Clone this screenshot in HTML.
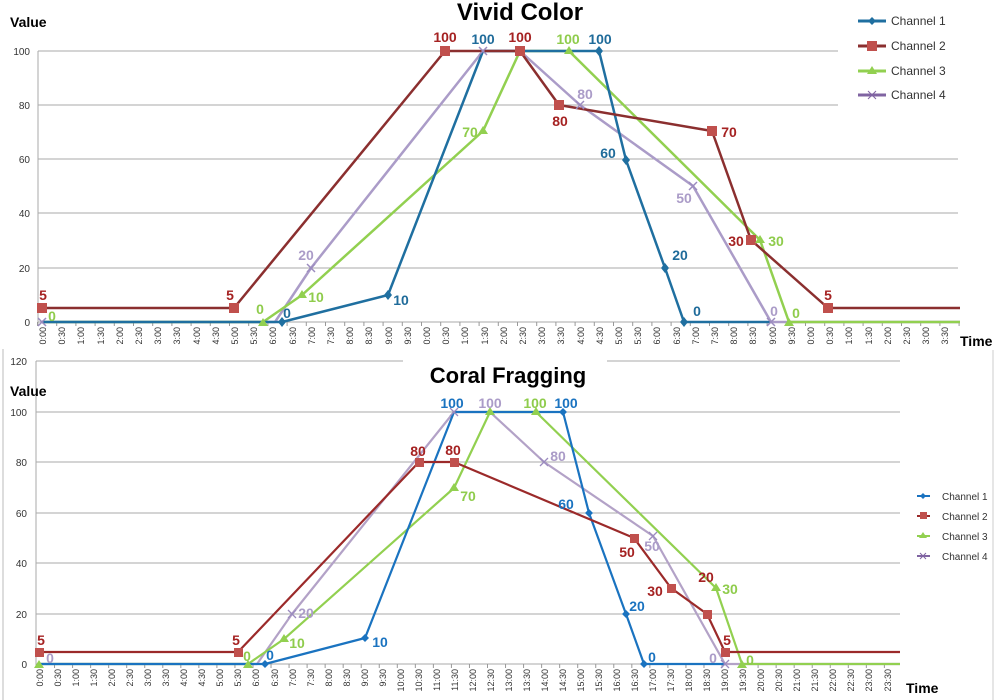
<!DOCTYPE html>
<html><head><meta charset="utf-8"><style>
html,body{margin:0;padding:0;background:#fff;}
svg{display:block;font-family:"Liberation Sans",sans-serif;}
.tk{font-size:9px;fill:#333;}
.yl{font-size:10px;fill:#333;}
.dl{font-size:14px;font-weight:bold;text-anchor:middle;}
.r{fill:#a52222}.b{fill:#1f6b9a}.g{fill:#8fcc4c}.p{fill:#ab9cc8}
.b2{fill:#1a73c0}
</style></head><body>
<svg width="1000" height="700" viewBox="0 0 1000 700">
<!-- ===== TOP CHART ===== -->
<g stroke="#aaa" stroke-width="1">
<line x1="38" y1="51" x2="838" y2="51"/><line x1="38" y1="105" x2="838" y2="105"/>
<line x1="38" y1="159" x2="958" y2="159"/><line x1="38" y1="213" x2="958" y2="213"/>
<line x1="38" y1="268" x2="958" y2="268"/>
<line x1="38" y1="322" x2="960" y2="322"/>
<line x1="38" y1="51" x2="38" y2="326"/>
</g>
<line x1="33" y1="324" x2="960" y2="324" stroke="#999" stroke-width="4" stroke-dasharray="1 18.2" stroke-dashoffset="-4"/>
<g class="yl" text-anchor="end">
<text x="30" y="55">100</text><text x="30" y="109">80</text><text x="30" y="163">60</text><text x="30" y="217">40</text><text x="30" y="272">20</text><text x="30" y="326">0</text>
</g>
<text x="10" y="27" font-size="14" font-weight="bold">Value</text>
<text x="520" y="20" font-size="24" font-weight="bold" text-anchor="middle">Vivid Color</text>
<text x="960" y="346" font-size="14" font-weight="bold">Time</text>
<g class="tk" text-anchor="end">
<text transform="translate(46,327) rotate(-90)">0:00</text>
<text transform="translate(65,327) rotate(-90)">0:30</text>
<text transform="translate(84,327) rotate(-90)">1:00</text>
<text transform="translate(104,327) rotate(-90)">1:30</text>
<text transform="translate(123,327) rotate(-90)">2:00</text>
<text transform="translate(142,327) rotate(-90)">2:30</text>
<text transform="translate(161,327) rotate(-90)">3:00</text>
<text transform="translate(180,327) rotate(-90)">3:30</text>
<text transform="translate(200,327) rotate(-90)">4:00</text>
<text transform="translate(219,327) rotate(-90)">4:30</text>
<text transform="translate(238,327) rotate(-90)">5:00</text>
<text transform="translate(257,327) rotate(-90)">5:30</text>
<text transform="translate(276,327) rotate(-90)">6:00</text>
<text transform="translate(296,327) rotate(-90)">6:30</text>
<text transform="translate(315,327) rotate(-90)">7:00</text>
<text transform="translate(334,327) rotate(-90)">7:30</text>
<text transform="translate(353,327) rotate(-90)">8:00</text>
<text transform="translate(372,327) rotate(-90)">8:30</text>
<text transform="translate(392,327) rotate(-90)">9:00</text>
<text transform="translate(411,327) rotate(-90)">9:30</text>
<text transform="translate(430,327) rotate(-90)">0:00</text>
<text transform="translate(449,327) rotate(-90)">0:30</text>
<text transform="translate(468,327) rotate(-90)">1:00</text>
<text transform="translate(488,327) rotate(-90)">1:30</text>
<text transform="translate(507,327) rotate(-90)">2:00</text>
<text transform="translate(526,327) rotate(-90)">2:30</text>
<text transform="translate(545,327) rotate(-90)">3:00</text>
<text transform="translate(564,327) rotate(-90)">3:30</text>
<text transform="translate(584,327) rotate(-90)">4:00</text>
<text transform="translate(603,327) rotate(-90)">4:30</text>
<text transform="translate(622,327) rotate(-90)">5:00</text>
<text transform="translate(641,327) rotate(-90)">5:30</text>
<text transform="translate(660,327) rotate(-90)">6:00</text>
<text transform="translate(680,327) rotate(-90)">6:30</text>
<text transform="translate(699,327) rotate(-90)">7:00</text>
<text transform="translate(718,327) rotate(-90)">7:30</text>
<text transform="translate(737,327) rotate(-90)">8:00</text>
<text transform="translate(756,327) rotate(-90)">8:30</text>
<text transform="translate(776,327) rotate(-90)">9:00</text>
<text transform="translate(795,327) rotate(-90)">9:30</text>
<text transform="translate(814,327) rotate(-90)">0:00</text>
<text transform="translate(833,327) rotate(-90)">0:30</text>
<text transform="translate(852,327) rotate(-90)">1:00</text>
<text transform="translate(872,327) rotate(-90)">1:30</text>
<text transform="translate(891,327) rotate(-90)">2:00</text>
<text transform="translate(910,327) rotate(-90)">2:30</text>
<text transform="translate(929,327) rotate(-90)">3:00</text>
<text transform="translate(948,327) rotate(-90)">3:30</text>
</g>
<g fill="none" stroke-width="2.5" stroke-linejoin="round">
<polyline stroke="#ab9cc8" points="42,322 275,322 311,268 483,51 520,51 580,105 693,186 771,322 960,322"/>
<polyline stroke="#92d050" points="42,322 263,322 302,295 483,131 520,51 569,51 760,240 789,322 960,322"/>
<polyline stroke="#1f6fa0" points="42,322 282,322 388,295 483,51 599,51 626,160 665,268 684,322 770,322"/>
<polyline stroke="#8b2f2f" points="42,308 234,308 445,51 520,51 559,105 712,131 751,240 828,308 960,308"/>
</g>
<g fill="#c0504d">
<rect x="37" y="303" width="10" height="10"/><rect x="229" y="303" width="10" height="10"/><rect x="440" y="46" width="10" height="10"/><rect x="515" y="46" width="10" height="10"/><rect x="554" y="100" width="10" height="10"/><rect x="707" y="126" width="10" height="10"/><rect x="746" y="235" width="10" height="10"/><rect x="823" y="303" width="10" height="10"/>
</g>
<g fill="#1f6fa0">
<path d="M282 317l4 5-4 5-4-5z"/><path d="M388 290l4 5-4 5-4-5z"/><path d="M599 46l4 5-4 5-4-5z"/><path d="M626 155l4 5-4 5-4-5z"/><path d="M665 263l4 5-4 5-4-5z"/><path d="M684 317l4 5-4 5-4-5z"/>
</g>
<g fill="#92d050">
<path d="M302 290l5 8h-10z"/><path d="M483 126l5 8h-10z"/><path d="M569 46l5 8h-10z"/><path d="M760 235l5 8h-10z"/><path d="M789 318l5 8h-10z"/><path d="M263 318l5 8h-10z"/>
</g>
<g stroke="#9b8bbf" stroke-width="1.5">
<path d="M307 264l8 8M315 264l-8 8"/><path d="M479 47l8 8M487 47l-8 8"/><path d="M576 101l8 8M584 101l-8 8"/><path d="M689 182l8 8M697 182l-8 8"/><path d="M767 318l8 8M775 318l-8 8"/><path d="M38 318l8 8M46 318l-8 8"/>
</g>
<g class="dl">
<text class="r" x="43" y="300">5</text><text class="r" x="230" y="300">5</text><text class="r" x="445" y="42">100</text><text class="r" x="520" y="42">100</text><text class="r" x="560" y="126">80</text><text class="r" x="729" y="137">70</text><text class="r" x="736" y="246">30</text><text class="r" x="828" y="300">5</text>
<text class="b" x="483" y="44">100</text><text class="b" x="401" y="305">10</text><text class="b" x="287" y="318">0</text><text class="b" x="600" y="44">100</text><text class="b" x="608" y="158">60</text><text class="b" x="680" y="260">20</text><text class="b" x="697" y="316">0</text>
<text class="g" x="52" y="321">0</text><text class="g" x="260" y="314">0</text><text class="g" x="316" y="302">10</text><text class="g" x="470" y="137">70</text><text class="g" x="568" y="44">100</text><text class="g" x="776" y="246">30</text><text class="g" x="796" y="318">0</text>
<text class="p" x="306" y="260">20</text><text class="p" x="585" y="99">80</text><text class="p" x="684" y="203">50</text><text class="p" x="774" y="316">0</text>
</g>
<g font-size="12" fill="#333">
<line x1="858" y1="21" x2="886" y2="21" stroke="#1f6fa0" stroke-width="3"/><path d="M872 17l4 4-4 4-4-4z" fill="#1f6fa0"/><text x="891" y="25">Channel 1</text>
<line x1="858" y1="46" x2="886" y2="46" stroke="#8b2f2f" stroke-width="3"/><rect x="867" y="41" width="10" height="10" fill="#c0504d"/><text x="891" y="50">Channel 2</text>
<line x1="858" y1="71" x2="886" y2="71" stroke="#92d050" stroke-width="3"/><path d="M872 66l5 8h-10z" fill="#92d050"/><text x="891" y="75">Channel 3</text>
<line x1="858" y1="95" x2="886" y2="95" stroke="#8064a2" stroke-width="3"/><path d="M868 91l8 8M876 91l-8 8" stroke="#8064a2"/><text x="891" y="99">Channel 4</text>
</g>
<line x1="3" y1="349" x2="3" y2="700" stroke="#bbb"/>

<!-- ===== BOTTOM CHART ===== -->
<g stroke="#aaa" stroke-width="1">
<line x1="36" y1="361" x2="403" y2="361"/><line x1="607" y1="361" x2="900" y2="361"/>
<line x1="36" y1="412" x2="900" y2="412"/><line x1="36" y1="462" x2="900" y2="462"/>
<line x1="36" y1="513" x2="900" y2="513"/><line x1="36" y1="563" x2="900" y2="563"/>
<line x1="36" y1="614" x2="900" y2="614"/><line x1="36" y1="664" x2="900" y2="664"/>
<line x1="36" y1="361" x2="36" y2="668"/>
</g>
<line x1="31" y1="666" x2="900" y2="666" stroke="#999" stroke-width="4" stroke-dasharray="1 17.04" stroke-dashoffset="-5"/>
<g class="yl" text-anchor="end">
<text x="27" y="365">120</text><text x="27" y="416">100</text><text x="27" y="466">80</text><text x="27" y="517">60</text><text x="27" y="567">40</text><text x="27" y="618">20</text><text x="27" y="668">0</text>
</g>
<text x="10" y="396" font-size="14" font-weight="bold">Value</text>
<text x="508" y="383" font-size="22" font-weight="bold" text-anchor="middle">Coral Fragging</text>
<text x="906" y="693" font-size="14" font-weight="bold">Time</text>
<g class="tk" text-anchor="end">
<text transform="translate(43,669) rotate(-90)">0:00</text>
<text transform="translate(61,669) rotate(-90)">0:30</text>
<text transform="translate(79,669) rotate(-90)">1:00</text>
<text transform="translate(97,669) rotate(-90)">1:30</text>
<text transform="translate(115,669) rotate(-90)">2:00</text>
<text transform="translate(133,669) rotate(-90)">2:30</text>
<text transform="translate(151,669) rotate(-90)">3:00</text>
<text transform="translate(169,669) rotate(-90)">3:30</text>
<text transform="translate(187,669) rotate(-90)">4:00</text>
<text transform="translate(205,669) rotate(-90)">4:30</text>
<text transform="translate(223,669) rotate(-90)">5:00</text>
<text transform="translate(241,669) rotate(-90)">5:30</text>
<text transform="translate(259,669) rotate(-90)">6:00</text>
<text transform="translate(278,669) rotate(-90)">6:30</text>
<text transform="translate(296,669) rotate(-90)">7:00</text>
<text transform="translate(314,669) rotate(-90)">7:30</text>
<text transform="translate(332,669) rotate(-90)">8:00</text>
<text transform="translate(350,669) rotate(-90)">8:30</text>
<text transform="translate(368,669) rotate(-90)">9:00</text>
<text transform="translate(386,669) rotate(-90)">9:30</text>
<text transform="translate(404,669) rotate(-90)">10:00</text>
<text transform="translate(422,669) rotate(-90)">10:30</text>
<text transform="translate(440,669) rotate(-90)">11:00</text>
<text transform="translate(458,669) rotate(-90)">11:30</text>
<text transform="translate(476,669) rotate(-90)">12:00</text>
<text transform="translate(494,669) rotate(-90)">12:30</text>
<text transform="translate(512,669) rotate(-90)">13:00</text>
<text transform="translate(530,669) rotate(-90)">13:30</text>
<text transform="translate(548,669) rotate(-90)">14:00</text>
<text transform="translate(566,669) rotate(-90)">14:30</text>
<text transform="translate(584,669) rotate(-90)">15:00</text>
<text transform="translate(602,669) rotate(-90)">15:30</text>
<text transform="translate(620,669) rotate(-90)">16:00</text>
<text transform="translate(638,669) rotate(-90)">16:30</text>
<text transform="translate(656,669) rotate(-90)">17:00</text>
<text transform="translate(674,669) rotate(-90)">17:30</text>
<text transform="translate(692,669) rotate(-90)">18:00</text>
<text transform="translate(710,669) rotate(-90)">18:30</text>
<text transform="translate(728,669) rotate(-90)">19:00</text>
<text transform="translate(746,669) rotate(-90)">19:30</text>
<text transform="translate(764,669) rotate(-90)">20:00</text>
<text transform="translate(782,669) rotate(-90)">20:30</text>
<text transform="translate(800,669) rotate(-90)">21:00</text>
<text transform="translate(818,669) rotate(-90)">21:30</text>
<text transform="translate(836,669) rotate(-90)">22:00</text>
<text transform="translate(854,669) rotate(-90)">22:30</text>
<text transform="translate(872,669) rotate(-90)">23:00</text>
<text transform="translate(891,669) rotate(-90)">23:30</text>
</g>
<g fill="none" stroke-width="2.2" stroke-linejoin="round">
<polyline stroke="#b3a2c7" points="39,664 257,664 292,614 454,412 490,412 544,462 653,536 725,664 900,664"/>
<polyline stroke="#92d050" points="39,664 248,664 284,639 454,488 490,412 536,412 716,588 742,664 900,664"/>
<polyline stroke="#1a73c0" points="39,664 265,664 365,638 454,412 563,412 589,513 626,614 644,664 725,664"/>
<polyline stroke="#9b2a2a" points="39,652 238,652 419,462 454,462 634,538 671,588 707,614 725,652 900,652"/>
</g>
<g fill="#c0504d">
<rect x="35" y="648" width="9" height="9"/><rect x="234" y="648" width="9" height="9"/><rect x="415" y="458" width="9" height="9"/><rect x="450" y="458" width="9" height="9"/><rect x="630" y="534" width="9" height="9"/><rect x="667" y="584" width="9" height="9"/><rect x="703" y="610" width="9" height="9"/><rect x="721" y="648" width="9" height="9"/>
</g>
<g fill="#1a73c0">
<path d="M265 660l4 4-4 4-4-4z"/><path d="M365 634l4 4-4 4-4-4z"/><path d="M563 408l4 4-4 4-4-4z"/><path d="M589 509l4 4-4 4-4-4z"/><path d="M626 610l4 4-4 4-4-4z"/><path d="M644 660l4 4-4 4-4-4z"/>
</g>
<g fill="#92d050">
<path d="M284 634l5 8h-10z"/><path d="M454 483l5 8h-10z"/><path d="M490 407l5 8h-10z"/><path d="M536 407l5 8h-10z"/><path d="M716 583l5 8h-10z"/><path d="M742 660l5 8h-10z"/><path d="M248 660l5 8h-10z"/><path d="M39 660l5 8h-10z"/>
</g>
<g stroke="#9b8bbf" stroke-width="1.3">
<path d="M288 610l8 8M296 610l-8 8"/><path d="M450 408l8 8M458 408l-8 8"/><path d="M540 458l8 8M548 458l-8 8"/><path d="M649 532l8 8M657 532l-8 8"/><path d="M721 660l8 8M729 660l-8 8"/>
</g>
<g class="dl">
<text class="r" x="41" y="645">5</text><text class="r" x="236" y="645">5</text><text class="r" x="418" y="456">80</text><text class="r" x="453" y="455">80</text><text class="r" x="627" y="557">50</text><text class="r" x="655" y="596">30</text><text class="r" x="706" y="582">20</text><text class="r" x="727" y="645">5</text>
<text class="b2" x="452" y="408">100</text><text class="b2" x="270" y="660">0</text><text class="b2" x="380" y="647">10</text><text class="b2" x="566" y="408">100</text><text class="b2" x="566" y="509">60</text><text class="b2" x="637" y="611">20</text><text class="b2" x="652" y="662">0</text>
<text class="g" x="247" y="661">0</text><text class="g" x="297" y="648">10</text><text class="g" x="468" y="501">70</text><text class="g" x="535" y="408">100</text><text class="g" x="730" y="594">30</text><text class="g" x="750" y="665">0</text>
<text class="p" x="50" y="663">0</text><text class="p" x="306" y="618">20</text><text class="p" x="490" y="408">100</text><text class="p" x="558" y="461">80</text><text class="p" x="652" y="551">50</text><text class="p" x="713" y="663">0</text>
</g>
<g font-size="10" fill="#333">
<line x1="917" y1="496" x2="930" y2="496" stroke="#1a73c0" stroke-width="2"/><path d="M923 493l3 3-3 3-3-3z" fill="#1a73c0"/><text x="942" y="500">Channel 1</text>
<line x1="917" y1="516" x2="930" y2="516" stroke="#9b2a2a" stroke-width="2"/><rect x="920" y="512" width="7" height="7" fill="#c0504d"/><text x="942" y="520">Channel 2</text>
<line x1="917" y1="536" x2="930" y2="536" stroke="#92d050" stroke-width="2"/><path d="M923 532l4 6h-8z" fill="#92d050"/><text x="942" y="540">Channel 3</text>
<line x1="917" y1="556" x2="930" y2="556" stroke="#8064a2" stroke-width="2"/><path d="M920 553l6 6M926 553l-6 6" stroke="#8064a2"/><text x="942" y="560">Channel 4</text>
</g>
<line x1="993" y1="350" x2="993" y2="700" stroke="#ccc"/>
</svg>
</body></html>
